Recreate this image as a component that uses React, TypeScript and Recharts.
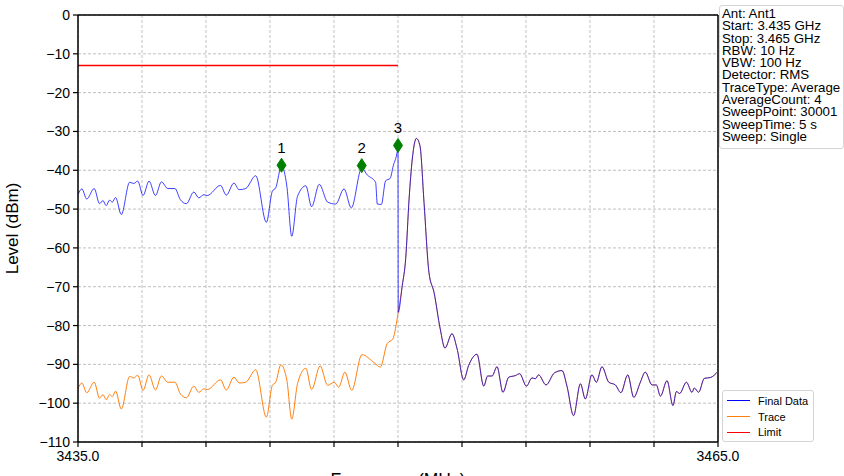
import {
  ComposedChart, Line, Scatter, XAxis, YAxis, CartesianGrid, ReferenceLine, LabelList, Label
} from 'recharts';

// frequency in MHz, level in dBm
const finalFreq = [
  3435.0, 3435.18, 3435.41, 3435.76, 3436.01, 3436.17, 3436.32, 3436.48, 3436.61, 3436.76,
  3437.03, 3437.42, 3437.61, 3437.8, 3438.05, 3438.33, 3438.63, 3438.91, 3439.21, 3439.54,
  3439.8, 3440.08, 3440.43, 3440.66, 3440.9, 3441.06, 3441.68, 3441.95, 3442.31, 3442.55,
  3442.86, 3443.33, 3443.83, 3444.11, 3444.27, 3444.54, 3444.79, 3445.02, 3445.29, 3445.68,
  3445.95, 3446.31, 3446.7, 3447.08, 3447.47, 3447.81, 3448.3, 3448.56, 3448.95, 3449.03,
  3449.22, 3449.42, 3449.63, 3449.78, 3449.97, 3450.0, 3450.01, 3450.2, 3450.36, 3450.52,
  3450.67, 3450.86, 3451.03, 3451.22, 3451.45, 3451.69, 3451.98, 3452.2, 3452.53, 3452.77,
  3453.08, 3453.31, 3453.7, 3454.02, 3454.2, 3454.41, 3454.64, 3454.92, 3455.19, 3455.5,
  3455.7, 3456.02, 3456.28, 3456.44, 3456.59, 3456.94, 3457.33, 3457.69, 3457.92, 3458.23,
  3458.55, 3458.78, 3459.09, 3459.3, 3459.56, 3459.88, 3460.19, 3460.45, 3460.77, 3461.05,
  3461.36, 3461.59, 3461.91, 3462.11, 3462.3, 3462.61, 3462.89, 3463.05, 3463.2, 3463.52,
  3463.78, 3463.89, 3464.09, 3464.36, 3464.64, 3465.0,
];
const finalLevel = [
  -46.3, -44.8, -47.4, -44.7, -48.6, -47.8, -49.1, -47.7, -48.2, -47.0,
  -51.4, -43.1, -43.4, -42.8, -46.5, -42.8, -46.5, -43.0, -44.7, -44.7,
  -47.6, -48.6, -45.6, -47.1, -46.3, -46.5, -43.9, -46.4, -43.3, -45.0,
  -44.7, -41.4, -53.4, -45.4, -44.5, -38.9, -44.1, -57.0, -46.7, -44.0,
  -49.4, -43.6, -48.2, -48.7, -44.8, -49.7, -39.5, -41.2, -43.1, -48.7,
  -48.8, -42.7, -42.1, -38.8, -35.0, -33.8, -76.6, -69.7, -62.8, -47.4,
  -37.1, -31.8, -33.7, -48.3, -66.3, -71.5, -80.9, -85.8, -82.1, -86.0,
  -94.0, -90.3, -87.4, -95.6, -93.0, -93.0, -90.6, -97.2, -93.3, -92.9,
  -92.4, -95.6, -93.5, -93.7, -92.7, -95.3, -92.2, -91.6, -95.6, -103.2,
  -95.0, -98.9, -92.7, -94.6, -90.6, -94.6, -95.3, -97.3, -92.7, -98.5,
  -94.6, -92.0, -95.3, -95.3, -98.2, -94.2, -100.6, -97.0, -97.5, -94.6,
  -97.2, -96.1, -97.2, -93.6, -93.4, -91.8,
];

const traceFreq = [
  3435.0, 3435.18, 3435.41, 3435.76, 3436.01, 3436.17, 3436.32, 3436.48, 3436.61, 3436.76,
  3437.03, 3437.42, 3437.61, 3437.8, 3438.05, 3438.33, 3438.63, 3438.91, 3439.21, 3439.54,
  3439.8, 3440.08, 3440.43, 3440.66, 3440.9, 3441.06, 3441.68, 3441.95, 3442.31, 3442.55,
  3442.86, 3443.33, 3443.83, 3444.11, 3444.27, 3444.51, 3444.79, 3445.02, 3445.29, 3445.68,
  3445.95, 3446.35, 3446.7, 3447.01, 3447.22, 3447.51, 3447.83, 3448.31, 3448.89, 3449.17,
  3449.49, 3449.76, 3450.01, 3450.2, 3450.36, 3450.52,
  3450.67, 3450.86, 3451.03, 3451.22, 3451.45, 3451.69, 3451.98, 3452.2, 3452.53, 3452.77,
  3453.08, 3453.31, 3453.7, 3454.02, 3454.2, 3454.41, 3454.64, 3454.92, 3455.19, 3455.5,
  3455.7, 3456.02, 3456.28, 3456.44, 3456.59, 3456.94, 3457.33, 3457.69, 3457.92, 3458.23,
  3458.55, 3458.78, 3459.09, 3459.3, 3459.56, 3459.88, 3460.19, 3460.45, 3460.77, 3461.05,
  3461.36, 3461.59, 3461.91, 3462.11, 3462.3, 3462.61, 3462.89, 3463.05, 3463.2, 3463.52,
  3463.78, 3463.89, 3464.09, 3464.36, 3464.64, 3465.0,
];
const traceLevel = [
  -96.3, -94.8, -97.3, -94.6, -98.7, -97.8, -99.1, -97.8, -98.3, -96.9,
  -101.5, -93.1, -93.5, -92.8, -96.7, -92.7, -96.6, -93.0, -94.6, -94.6,
  -97.6, -98.6, -95.6, -97.2, -96.3, -96.5, -94.0, -96.6, -93.3, -94.8,
  -94.6, -91.4, -103.6, -95.4, -94.6, -90.1, -94.1, -104.1, -95.0, -91.0,
  -96.5, -90.4, -95.4, -94.6, -95.9, -92.0, -96.7, -87.5, -89.6, -90.7,
  -84.7, -83.4, -76.6, -69.7, -62.8, -47.4,
  -37.1, -31.8, -33.7, -48.3, -66.3, -71.5, -80.9, -85.8, -82.1, -86.0,
  -94.0, -90.3, -87.4, -95.6, -93.0, -93.0, -90.6, -97.2, -93.3, -92.9,
  -92.4, -95.6, -93.5, -93.7, -92.7, -95.3, -92.2, -91.6, -95.6, -103.2,
  -95.0, -98.9, -92.7, -94.6, -90.6, -94.6, -95.3, -97.3, -92.7, -98.5,
  -94.6, -92.0, -95.3, -95.3, -98.2, -94.2, -100.6, -97.0, -97.5, -94.6,
  -97.2, -96.1, -97.2, -93.6, -93.4, -91.8,
];

const limitFreq = [3435.0, 3450.0];
const limitLevel = [-13, -13];

const markerLabels = ['1', '2', '3'];
const markerFreq = [3444.54, 3448.3, 3450.0];
const markerLevel = [-38.7, -38.8, -33.6];

const xTicks = [3435, 3438, 3441, 3444, 3447, 3450, 3453, 3456, 3459, 3462, 3465];
const yTicks = [0, -10, -20, -30, -40, -50, -60, -70, -80, -90, -100, -110];

const infoLines = [
  'Ant: Ant1',
  'Start: 3.435 GHz',
  'Stop: 3.465 GHz',
  'RBW: 10 Hz',
  'VBW: 100 Hz',
  'Detector: RMS',
  'TraceType: Average',
  'AverageCount: 4',
  'SweepPoint: 30001',
  'SweepTime: 5 s',
  'Sweep: Single',
];

const legendItems = [
  { name: 'Final Data', color: '#0000ff' },
  { name: 'Trace', color: '#ff7f0e' },
  { name: 'Limit', color: '#ff0000' },
];

const toRows = (f: number[], v: number[]) => f.map((x, i) => ({ f: x, v: v[i] }));
const finalData = toRows(finalFreq, finalLevel);
const traceData = toRows(traceFreq, traceLevel);
const limitData = toRows(limitFreq, limitLevel);
const markerData = markerFreq.map((x, i) => ({ f: x, v: markerLevel[i], label: markerLabels[i] }));

const FONT = '"Liberation Sans", Arial, sans-serif';

const Diamond = (props: any) => {
  const { cx, cy } = props;
  if (cx == null || cy == null) return null;
  return (
    <polygon
      points={`${cx},${cy - 7} ${cx + 4.5},${cy} ${cx},${cy + 7} ${cx - 4.5},${cy}`}
      fill="#008000"
      stroke="#008000"
    />
  );
};

const minus = (v: number) => (v < 0 ? '\u2212' + Math.abs(v) : String(v));

export default function App() {
  return (
    <div style={{ position: 'absolute', left: 0, top: 0, width: 844, height: 476, background: '#fff', overflow: 'hidden' }}>
      <ComposedChart width={844} height={476} margin={{ top: 15, right: 126, left: 0, bottom: 0 }}>
        <CartesianGrid stroke="#b0b0b0" strokeDasharray="3 2" strokeWidth={0.8} />
        <XAxis
          dataKey="f"
          type="number"
          domain={[3435, 3465]}
          ticks={xTicks}
          allowDataOverflow
          height={34}
          tickSize={5}
          tickMargin={4}
          interval={0}
          tickFormatter={(v: number) => (v === 3435 || v === 3465 ? v.toFixed(1) : '')}
          tick={{ fill: '#000', fontSize: 14, fontFamily: FONT }}
          axisLine={{ stroke: '#000', strokeWidth: 1.5 }}
          tickLine={{ stroke: '#000', strokeWidth: 1.2 }}
        >
          <Label value="Frequency (MHz)" position="insideBottom" offset={-10}
            style={{ fontSize: 17.5, fontFamily: FONT, fill: '#000' }} />
        </XAxis>
        <YAxis
          dataKey="v"
          type="number"
          domain={[-110, 0]}
          ticks={yTicks}
          allowDataOverflow
          width={78}
          tickSize={5}
          tickMargin={3}
          interval={0}
          tickFormatter={minus}
          tick={{ fill: '#000', fontSize: 14, fontFamily: FONT }}
          axisLine={{ stroke: '#000', strokeWidth: 1.5 }}
          tickLine={{ stroke: '#000', strokeWidth: 1.2 }}
        >
          <Label value="Level (dBm)" angle={-90} position="insideLeft" offset={12}
            style={{ fontSize: 17, fontFamily: FONT, fill: '#000', textAnchor: 'middle' }} />
        </YAxis>
        <ReferenceLine y={0} stroke="#000" strokeWidth={1.5} />
        <ReferenceLine x={3465} stroke="#000" strokeWidth={1.5} />
        <Line data={traceData} dataKey="v" name="Trace" type="monotone" stroke="#ff7f0e"
          strokeWidth={1} dot={false} isAnimationActive={false} />
        <Line data={finalData} dataKey="v" name="Final Data" type="monotone" stroke="#0000ff"
          strokeOpacity={0.75} strokeWidth={1} dot={false} isAnimationActive={false} />
        <Line data={limitData} dataKey="v" name="Limit" type="linear" stroke="#ff0000"
          strokeWidth={1.5} dot={false} isAnimationActive={false} />
        <Scatter data={markerData} dataKey="v" shape={<Diamond />} legendType="none" isAnimationActive={false}>
          <LabelList dataKey="label" position="top" offset={8}
            style={{ fontSize: 15, fontFamily: FONT, fill: '#000' }} />
        </Scatter>
      </ComposedChart>
      <div style={{
        position: 'absolute', left: 722, top: 390, width: 82, height: 46,
        border: '1px solid #d4d4d4', borderRadius: 3, background: 'rgba(255,255,255,0.8)',
        padding: '2px 4px', fontFamily: FONT, fontSize: 11, color: '#000',
      }}>
        {legendItems.map(it => (
          <div key={it.name} style={{ display: 'flex', alignItems: 'center', height: 15.8 }}>
            <span style={{ display: 'inline-block', width: 23, height: 0, borderTop: `1.5px solid ${it.color}`, marginRight: 8 }} />
            <span>{it.name}</span>
          </div>
        ))}
      </div>
      <div style={{
        position: 'absolute', left: 719, top: 5, width: 121, height: 140,
        border: '1px solid #d4d4d4', borderRadius: 3, background: 'rgba(255,255,255,0.8)',
        padding: '2px 0 0 2px', fontFamily: FONT, fontSize: 13.3, lineHeight: '12.3px', color: '#000',
        whiteSpace: 'nowrap',
      }}>
        {infoLines.map(l => <div key={l}>{l}</div>)}
      </div>
    </div>
  );
}
